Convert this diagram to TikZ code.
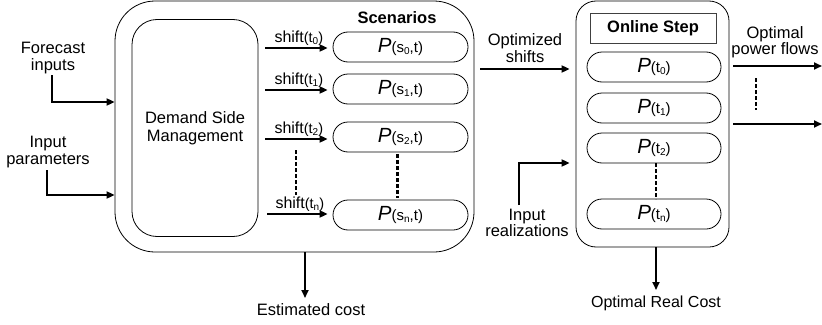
\documentclass[tikz,border=0pt]{standalone}
\usepackage{fontspec}
\setmainfont{Liberation Sans}
\usetikzlibrary{arrows.meta}
\newcommand\fs[1]{\fontsize{#1}{#1}\selectfont}
\newcommand\lowsub[1]{\raisebox{-0.25ex}{\fs{10}#1}}
\newcommand\Pbig{{\fs{20.5}\itshape P}}
\newcommand\shiftlbl[1]{{\fs{16}shift{\fs{14.5}(t\lowsub{#1})}}}
\newcommand\Ps[1]{\Pbig{\fs{15}(s\lowsub{#1},t)}}
\newcommand\Pt[1]{\Pbig{\fs{15}(t\lowsub{#1})}}
\begin{document}
\begin{tikzpicture}[x=1pt,y=-1pt,
  box/.style={draw, line width=0.8pt, inner sep=0pt},
  pill/.style={draw, line width=0.8pt, rounded corners=15pt, minimum width=135pt, minimum height=30pt, inner sep=0pt},
  arr/.style={line width=1.8pt, -{Triangle[length=8pt,width=7pt]}},
  dots/.style={line width=2.5pt, dash pattern=on 3.5pt off 2.5pt},
  lbl/.style={align=center, font=\fs{16.5}, inner sep=0pt},
  hdr/.style={font=\fs{16.5}\bfseries, inner sep=0pt}]
\useasboundingbox (0,0) rectangle (822,324);

% outer DSM box
\node[box, rounded corners=40pt, minimum width=359pt, minimum height=251pt] (outer) at (294.5,126.5) {};
\node[box, rounded corners=25pt, minimum width=126pt, minimum height=217pt, align=center, font=\fs{16.5}] (dsm) at (195,128) {Demand Side\\[2pt]Management};
\node[hdr] (scen) at (397,18) {Scenarios};

% scenario pills
\node[pill] (s0) at (400.5,47) {\Ps{0}};
\node[pill] (s1) at (400.5,89) {\Ps{1}};
\node[pill] (s2) at (400.5,137) {\Ps{2}};
\node[pill] (sn) at (400.5,215) {\Ps{n}};

% shift arrows
\coordinate (a0) at (265,48);
\coordinate (a1) at (265,90);
\coordinate (a2) at (265,139);
\coordinate (an) at (267,214);
\draw[arr, shorten >=5pt] (a0) -- (a0 -| s0.west) node[midway, above=2pt, inner sep=0pt] (l0) {\shiftlbl{0}};
\draw[arr, shorten >=5pt] (a1) -- (a1 -| s1.west) node[midway, above=2pt, inner sep=0pt] (l1) {\shiftlbl{1}};
\draw[arr, shorten >=5pt] (a2) -- (a2 -| s2.west) node[midway, above=2pt, inner sep=0pt] (l2) {\shiftlbl{2}};
\draw[arr, shorten >=5pt] (an) -- (an -| sn.west) node[midway, above=2pt, inner sep=0pt] (ln) {\shiftlbl{n}};

% dotted lines in scenarios
\coordinate (d1a) at (296,150);
\coordinate (d1b) at (296,195);
\draw[dots] (d1a) -- (d1b);
\draw[dots] (s2.south) ++(-3,2) -- ++(0,44);

% inputs
\node[lbl] (fc) at (53,58) {Forecast\\inputs};
\coordinate (fcA) at (52,75);
\draw[arr] (fcA) |- (outer.west |- 0,102);
\node[lbl] (ip) at (48,152) {Input\\parameters};
\coordinate (ipA) at (47,170);
\draw[arr] (ipA) |- (outer.west |- 0,195);

% estimated cost
\node[lbl] (ec) at (311,310) {Estimated cost};
\coordinate (ecA) at (305,298);
\draw[arr] (ecA |- outer.south) -- (ecA);

% online box
\node[box, rounded corners=20pt, minimum width=153pt, minimum height=246pt] (online) at (652.5,124) {};
\node[draw=black!75, line width=1pt, minimum width=126pt, minimum height=30pt, font=\fs{16.5}\bfseries, inner sep=0pt] (os) at (653,28) {Online Step};
\node[pill, minimum width=134pt] (t0) at (654,67) {\Pt{0}};
\node[pill, minimum width=134pt] (t1) at (654,108) {\Pt{1}};
\node[pill, minimum width=134pt] (t2) at (654,148) {\Pt{2}};
\node[pill, minimum width=134pt] (tn) at (654,214) {\Pt{n}};
\draw[dots] (t2.south) ++(2,0) -- ++(0,36);

% optimized shifts
\node[lbl] (osh) at (525,48) {Optimized\\shifts};
\draw[arr, shorten <=6pt, shorten >=6pt] (outer.east |- 0,69) -- (online.west |- 0,69);

% input realizations
\node[lbl] (ir) at (527,223) {Input\\realizations};
\coordinate (irA) at (519,205);
\draw[arr, shorten >=6pt] (irA) |- (online.west |- 0,163);

% outputs
\node[lbl] (opf) at (775,42) {Optimal\\power flows};
\coordinate (o1) at (822,66);
\coordinate (o2) at (822,124);
\draw[arr, shorten <=4pt] (online.east |- o1) -- (o1);
\draw[arr, shorten <=4pt] (online.east |- o2) -- (o2);
\coordinate (d3a) at (756,78);
\coordinate (d3b) at (756,110);
\draw[dots] (d3a) -- (d3b);

% optimal real cost
\node[lbl, font=\fs{16}] (orc) at (656,303) {Optimal Real Cost};
\coordinate (orcA) at (656,290);
\draw[arr] (orcA |- online.south) -- (orcA);
\end{tikzpicture}
\end{document}
